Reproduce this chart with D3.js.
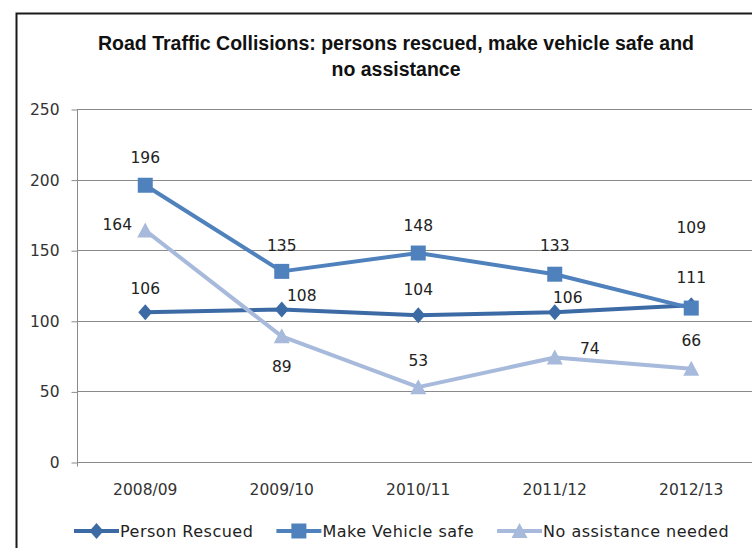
<!DOCTYPE html>
<html>
<head>
<meta charset="utf-8">
<script src="https://cdn.jsdelivr.net/npm/d3@7"></script>
<style>
  body { margin: 0; background: #fff; }
  svg { display: block; }
</style>
</head>
<body>
<div id="chart"></div>
<script>
// data
var categories = ["2008/09", "2009/10", "2010/11", "2011/12", "2012/13"];
var personRescued = [106, 108, 104, 106, 111];
var makeVehicleSafe = [196, 135, 148, 133, 109];
var noAssistance = [164, 89, 53, 74, 66];
var yTicks = [0, 50, 100, 150, 200, 250];

// label offsets (dx, dy from the point), same order as categories
var personLabelPos = [[0, -24], [20, -14], [0, -26], [13, -15], [0, -28]];
var vehicleLabelPos = [[0, -28], [0, -26], [0, -28], [0, -29], [0, -81]];
var noAssistLabelPos = [[-28, -6], [0, 30], [0, -27], [35, -9], [0, -28]];

var width = 752, height = 548;

var svg = d3.select("#chart")
    .append("svg")
    .attr("width", width)
    .attr("height", height);

// chart frame (only top and left edges are inside the window)
svg.append("path")
    .attr("d", "M16.5," + height + "V13.5H" + width)
    .attr("fill", "none")
    .attr("stroke", "#1a1a1a")
    .attr("stroke-width", 2);

// title
var title = svg.append("text")
    .attr("text-anchor", "middle")
    .attr("font-family", "'Liberation Sans Narrow', 'Arial Narrow', sans-serif")
    .attr("font-weight", "bold")
    .attr("font-size", 19.5)
    .attr("fill", "#111");
title.append("tspan").attr("x", 396).attr("y", 50)
    .text("Road Traffic Collisions:  persons rescued, make vehicle safe and");
title.append("tspan").attr("x", 396).attr("y", 76)
    .text("no assistance");

var x = d3.scalePoint()
    .domain(categories)
    .range([77, 759.5])
    .padding(0.5);

var y = d3.scaleLinear()
    .domain([0, 250])
    .range([462, 109]);

// gridlines
svg.append("g")
    .selectAll("line")
    .data(yTicks)
    .enter()
    .append("line")
    .attr("x1", 77)
    .attr("x2", width)
    .attr("y1", function (d) { return Math.round(y(d)) + 0.5; })
    .attr("y2", function (d) { return Math.round(y(d)) + 0.5; })
    .attr("stroke", "#8a8a8a")
    .attr("stroke-width", 1);

// y axis
var yAxis = svg.append("g")
    .attr("transform", "translate(77.5,0.5)")
    .call(d3.axisLeft(y).tickValues(yTicks).tickSize(6).tickSizeOuter(0));
yAxis.select(".domain").attr("stroke", "#8a8a8a").attr("d", "M0," + y(250) + "V" + (y(0) + 4));
yAxis.selectAll(".tick line").attr("stroke", "#8a8a8a");
yAxis.selectAll(".tick text")
    .attr("x", -18)
    .attr("font-family", "'DejaVu Sans', sans-serif")
    .attr("font-size", 15.5)
    .attr("fill", "#333");

// x labels
svg.append("g")
    .selectAll("text")
    .data(categories)
    .enter()
    .append("text")
    .attr("x", function (d) { return x(d); })
    .attr("y", 495)
    .attr("text-anchor", "middle")
    .attr("font-family", "'DejaVu Sans', sans-serif")
    .attr("font-size", 15.5)
    .attr("fill", "#333")
    .text(function (d) { return d; });

var series = [
    { name: "Person Rescued", values: personRescued, color: "#3c6aa4", marker: "diamond", labels: personLabelPos },
    { name: "Make Vehicle safe", values: makeVehicleSafe, color: "#4f81bd", marker: "square", labels: vehicleLabelPos },
    { name: "No assistance needed", values: noAssistance, color: "#a7badc", marker: "triangle", labels: noAssistLabelPos }
];

function markerPath(type) {
    if (type === "diamond") return "M0,-8L7,0L0,8L-7,0Z";
    if (type === "square") return "M-7.5,-7.5H7.5V7.5H-7.5Z";
    return "M0,-8L8,7H-8Z";
}

var line = d3.line()
    .x(function (d, i) { return x(categories[i]); })
    .y(function (d) { return y(d); });

series.forEach(function (s) {
    svg.append("path")
        .datum(s.values)
        .attr("d", line)
        .attr("fill", "none")
        .attr("stroke", s.color)
        .attr("stroke-width", 4)
        .attr("stroke-linejoin", "round");
    svg.append("g")
        .selectAll("path")
        .data(s.values)
        .enter()
        .append("path")
        .attr("transform", function (d, i) { return "translate(" + x(categories[i]) + "," + y(d) + ")"; })
        .attr("d", markerPath(s.marker))
        .attr("fill", s.color);
});

// value labels
series.forEach(function (s) {
    svg.append("g")
        .selectAll("text")
        .data(s.values)
        .enter()
        .append("text")
        .attr("x", function (d, i) { return x(categories[i]) + s.labels[i][0]; })
        .attr("y", function (d, i) { return y(d) + s.labels[i][1]; })
        .attr("dy", "0.36em")
        .attr("text-anchor", "middle")
        .attr("font-family", "'DejaVu Sans', sans-serif")
        .attr("font-size", 15.5)
        .attr("fill", "#222")
        .text(function (d) { return d; });
});

// legend
var legend = svg.append("g");
var lx = 74, ly = 531;
series.forEach(function (s) {
    var g = legend.append("g").attr("transform", "translate(" + lx + "," + ly + ")");
    g.append("line")
        .attr("x1", 0).attr("x2", 45)
        .attr("stroke", s.color)
        .attr("stroke-width", 4);
    g.append("path")
        .attr("transform", "translate(22.5,0)")
        .attr("d", markerPath(s.marker))
        .attr("fill", s.color);
    var t = g.append("text")
        .attr("x", 46)
        .attr("dy", "0.36em")
        .attr("font-family", "'DejaVu Sans', sans-serif")
        .attr("font-size", 16)
        .attr("letter-spacing", 0.5)
        .attr("fill", "#222")
        .text(s.name);
    lx += 46 + t.node().getComputedTextLength() + 23;
});
</script>
</body>
</html>
